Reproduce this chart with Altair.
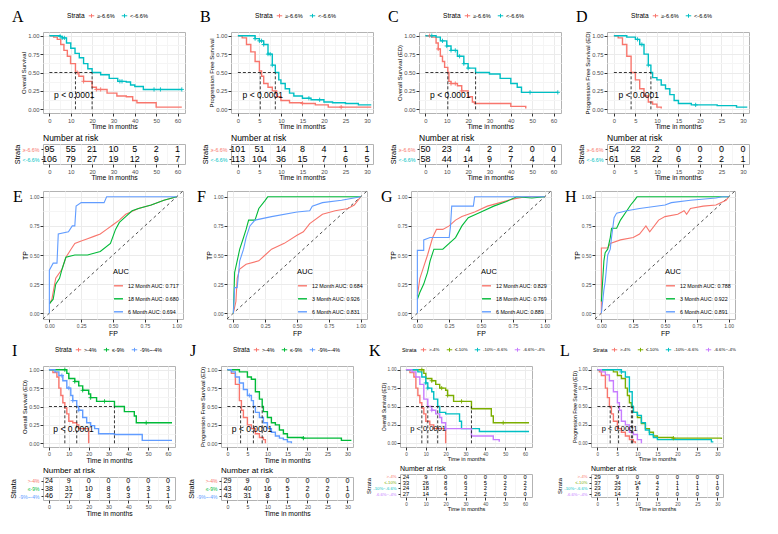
import altair as alt
import pandas as pd

FONT = "Liberation Sans"
SERIF = "Liberation Serif"
RED, CYAN, GREEN, BLUE, OLIVE, PURPLE = "#F8766D", "#00BFC4", "#00BA38", "#619CFF", "#7CAE00", "#C77CFF"

S2 = ["≥-6.6%", "<-6.6%"]
S3 = [">-4%", "≤-9%", "-9%~-4%"]
S4 = [">-4%", "≤-10%", "-10%~-6.6%", "-6.6%~-4%"]

OS_TICKS = [0, 10, 20, 30, 40, 50, 60]
PFS_TICKS = [0, 5, 10, 15, 20, 25, 30]

# ---------------- Kaplan-Meier curves (time, survival) ----------------
A_hi = [(0, 1), (2, 0.98), (3.7, 0.95), (5.3, 0.88), (6.8, 0.8), (8.4, 0.72), (9.9, 0.62), (12.2, 0.5), (13.8, 0.45),
        (16, 0.38), (20, 0.3), (22, 0.27), (27, 0.22), (31.6, 0.18), (36, 0.17), (39, 0.12), (41, 0.09), (50, 0.03), (62, 0.03)]
A_lo = [(0, 1), (5, 0.99), (6, 0.97), (8, 0.9), (10, 0.83), (12, 0.76), (14, 0.7), (16, 0.62), (18, 0.55), (20, 0.5),
        (24, 0.47), (28, 0.42), (32, 0.38), (36, 0.37), (38, 0.33), (40, 0.31), (44, 0.27), (62, 0.27)]
B_hi = [(0, 1), (1, 0.97), (2, 0.88), (3, 0.78), (4, 0.65), (5, 0.52), (5.5, 0.45), (6, 0.35), (7, 0.3), (8, 0.25),
        (9, 0.17), (10, 0.12), (12, 0.09), (15, 0.08), (18, 0.06), (21, 0.03), (31, 0.03)]
B_lo = [(0, 1), (3, 1), (4, 0.96), (5, 0.93), (6, 0.88), (7, 0.75), (8, 0.6), (8.7, 0.5), (9.5, 0.4), (10, 0.35),
        (11, 0.28), (12, 0.22), (13, 0.18), (15, 0.15), (17, 0.13), (20, 0.1), (22, 0.09), (25, 0.08), (28, 0.06), (31, 0.06)]
C_hi = [(0, 1), (3, 0.98), (5, 0.9), (6, 0.82), (7, 0.72), (8, 0.65), (9, 0.57), (10.5, 0.5), (11, 0.38), (12, 0.35),
        (15, 0.32), (17, 0.25), (20, 0.17), (22, 0.1), (23, 0.08), (30, 0.08), (40, 0.04), (47, 0.01)]
C_lo = [(0, 1), (5, 0.98), (7, 0.93), (10, 0.86), (12, 0.8), (15, 0.72), (18, 0.62), (20, 0.56), (23.5, 0.5), (30, 0.48),
        (35, 0.42), (40, 0.35), (43, 0.3), (45, 0.23), (62, 0.23)]
D_hi = [(0, 1), (1, 0.97), (2, 0.88), (3, 0.72), (4, 0.5), (5, 0.4), (6, 0.28), (7, 0.18), (8, 0.1), (9, 0.07),
        (10, 0.03), (11, 0.01)]
D_lo = [(0, 1), (3, 0.98), (5, 0.95), (6, 0.88), (7, 0.75), (8, 0.6), (8.6, 0.5), (9, 0.43), (10, 0.4), (11, 0.33),
        (12, 0.28), (13, 0.2), (14, 0.12), (15, 0.08), (18, 0.06), (24, 0.05), (28.5, 0.03), (31, 0.03)]

I_red = [(0, 1), (2, 0.96), (4, 0.9), (5, 0.75), (6, 0.65), (7, 0.55), (8, 0.48), (9, 0.4), (10, 0.3), (12, 0.28),
         (14, 0.25), (15, 0.2), (20, 0.0)]
I_green = [(0, 1), (8, 1), (9, 0.95), (10, 0.88), (13, 0.84), (15, 0.78), (17, 0.72), (20, 0.67), (21, 0.62), (24, 0.57),
           (33, 0.5), (38, 0.43), (43, 0.37), (44, 0.28), (62, 0.28)]
I_blue = [(0, 1), (3, 0.97), (5, 0.92), (7, 0.85), (9, 0.75), (11, 0.65), (12, 0.58), (14, 0.5), (15, 0.45), (17, 0.35),
          (19, 0.28), (21, 0.24), (23, 0.2), (25, 0.13), (33, 0.12), (47, 0.04), (62, 0.04)]
J_red = [(0, 1), (1, 0.95), (2, 0.8), (3, 0.58), (3.5, 0.45), (4, 0.35), (5, 0.25), (6, 0.2), (7, 0.13), (8, 0.08),
         (9, 0.05), (9.5, 0.0)]
J_green = [(0, 1), (2, 1), (3, 0.97), (5, 0.9), (6, 0.87), (7, 0.7), (8, 0.6), (8.7, 0.5), (9, 0.43), (10, 0.35),
           (11, 0.28), (12, 0.25), (13, 0.18), (14, 0.13), (15, 0.08), (19, 0.07), (28.5, 0.04), (31, 0.04)]
J_blue = [(0, 1), (1, 0.97), (2, 0.9), (3, 0.82), (4, 0.73), (5, 0.65), (6, 0.58), (6.5, 0.5), (7, 0.42), (8, 0.35),
          (9, 0.28), (10, 0.2), (11, 0.15), (12, 0.1), (13, 0.07), (14, 0.05), (15, 0.02), (16, 0.0)]
K_red = [(0, 1), (2, 0.96), (4, 0.9), (5, 0.75), (6, 0.65), (7, 0.55), (8, 0.48), (9, 0.4), (10, 0.3), (12, 0.25),
         (14, 0.2), (20, 0.0)]
K_olive = [(0, 1), (8, 1), (9, 0.95), (10, 0.88), (13, 0.85), (15, 0.8), (17, 0.75), (20, 0.72), (21, 0.65), (24, 0.57),
           (33, 0.47), (43, 0.37), (44, 0.28), (62, 0.28)]
K_cyan = [(0, 1), (6, 0.97), (8, 0.9), (10, 0.82), (11, 0.75), (13, 0.7), (14, 0.6), (16, 0.5), (17, 0.42), (20, 0.4),
          (27, 0.3), (28, 0.2), (37, 0.16), (62, 0.16)]
K_purple = [(0, 1), (3, 0.97), (5, 0.9), (7, 0.8), (9, 0.6), (11, 0.5), (13, 0.45), (15, 0.4), (17, 0.35), (18, 0.28),
            (20, 0.2), (25, 0.2), (33, 0.1), (44, 0.05), (47, 0.02)]
L_red = [(0, 1), (0.5, 0.97), (1, 0.92), (2, 0.75), (2.5, 0.62), (3, 0.5), (3.5, 0.4), (4, 0.3), (5, 0.2), (6, 0.15),
         (7, 0.1), (8, 0.05), (9, 0.02), (9.5, 0.0)]
L_olive = [(0, 1), (4, 0.97), (5, 0.92), (6, 0.88), (7, 0.75), (7.5, 0.65), (8, 0.55), (8.5, 0.5), (9, 0.42), (10, 0.35),
           (11, 0.27), (12, 0.2), (13, 0.15), (14, 0.1), (15, 0.08), (19, 0.07), (31, 0.06)]
L_cyan = [(0, 1), (5, 1), (6, 0.97), (7, 0.9), (8, 0.7), (8.7, 0.5), (9, 0.42), (10, 0.38), (11, 0.28), (12, 0.18),
          (13, 0.12), (14, 0.08), (15, 0.05), (28.5, 0.02), (29, 0.02)]
L_purple = [(0, 1), (1, 0.97), (2, 0.93), (3, 0.85), (4, 0.7), (5, 0.55), (5.5, 0.45), (6, 0.3), (7, 0.25), (8, 0.15),
            (9, 0.12), (10, 0.05), (11, 0.0)]

# censor times
A_cens = [[13, 16, 22, 24], [5, 6, 7, 33, 34, 49, 52, 62]]
B_cens = [[15, 24], [4, 5, 5.5, 6, 7, 7.5, 8, 16.5, 19]]
C_cens = [[2, 6, 12, 14, 17], [3, 8, 10, 12, 14, 16, 18, 20, 49, 62]]
D_cens = [[], [5.5, 6.5, 8, 19]]
I_cens = [[], [8, 13, 17, 21, 28, 49], [6.5, 10, 12, 15]]
J_cens = [[], [19], [5.5]]
K_cens = [[], [8, 13, 18, 21, 28, 49], [10, 11], [13, 20]]
L_cens = [[], [19], [6], []]

# medians
A_med = [12.2, 20]
B_med = [5.2, 8.7]
C_med = [10.5, 23.5]
D_med = [4, 8.6]
I_med = [8, 33, 14]
J_med = [3.3, 8.7, 6.5]
K_med = [8, 33, 16, 11]
L_med = [3.2, 8.5, 8.8, 5.3]

# number at risk
A_risk = [[95, 55, 21, 10, 5, 2, 1], [106, 79, 27, 19, 12, 9, 7]]
B_risk = [[101, 51, 14, 8, 4, 1, 1], [113, 104, 36, 15, 7, 6, 5]]
C_risk = [[50, 23, 4, 2, 2, 0, 0], [58, 44, 14, 9, 7, 4, 4]]
D_risk = [[54, 22, 2, 0, 0, 0, 0], [61, 58, 22, 6, 2, 2, 1]]
I_risk = [[24, 9, 0, 0, 0, 0, 0], [38, 31, 10, 8, 6, 3, 3], [46, 27, 8, 3, 3, 1, 1]]
J_risk = [[29, 9, 0, 0, 0, 0, 0], [43, 40, 16, 5, 2, 2, 1], [43, 31, 8, 1, 0, 0, 0]]
K_risk = [[24, 9, 0, 0, 0, 0, 0], [33, 26, 8, 6, 5, 2, 2], [24, 18, 6, 3, 2, 2, 2], [27, 14, 4, 2, 2, 0, 0]]
L_risk = [[29, 9, 0, 0, 0, 0, 0], [37, 34, 14, 4, 1, 1, 1], [23, 23, 8, 2, 1, 1, 0], [26, 14, 2, 0, 0, 0, 0]]

# ---------------- ROC curves (FP, TP) ----------------
E_labels = ["12 Month AUC: 0.717", "18 Month AUC: 0.680", "6 Month AUC: 0.694"]
E_12 = [(0, 0.08), (0.02, 0.12), (0.05, 0.3), (0.1, 0.38), (0.13, 0.48), (0.17, 0.55), (0.2, 0.6), (0.25, 0.62),
        (0.3, 0.64), (0.35, 0.66), (0.4, 0.68), (0.45, 0.72), (0.5, 0.76), (0.55, 0.8), (0.6, 0.85), (0.7, 0.9),
        (0.8, 0.93), (0.9, 0.97), (1, 1)]
E_18 = [(0, 0.08), (0.03, 0.12), (0.05, 0.25), (0.08, 0.3), (0.1, 0.38), (0.13, 0.48), (0.2, 0.5), (0.3, 0.5),
        (0.4, 0.53), (0.48, 0.6), (0.52, 0.72), (0.55, 0.78), (0.6, 0.83), (0.65, 0.88), (0.7, 0.9), (0.8, 0.93),
        (0.9, 0.97), (1, 1)]
E_6 = [(0, 0), (0, 0.37), (0.03, 0.43), (0.06, 0.43), (0.07, 0.68), (0.15, 0.7), (0.18, 0.75), (0.2, 0.75),
       (0.21, 0.92), (0.25, 0.95), (0.43, 0.95), (0.45, 1.0), (1, 1)]
F_labels = ["12 Month AUC: 0.684", "3 Month AUC: 0.926", "6 Month AUC: 0.831"]
F_12 = [(0, 0), (0.02, 0.1), (0.03, 0.3), (0.05, 0.38), (0.1, 0.42), (0.2, 0.45), (0.25, 0.5), (0.3, 0.55), (0.4, 0.6),
        (0.5, 0.67), (0.55, 0.7), (0.6, 0.77), (0.7, 0.85), (0.8, 0.88), (0.9, 0.9), (0.95, 0.93), (1, 1)]
F_3 = [(0, 0), (0.01, 0.35), (0.03, 0.45), (0.05, 0.55), (0.08, 0.65), (0.1, 0.72), (0.12, 0.8), (0.17, 0.8),
       (0.2, 0.9), (0.25, 0.97), (0.27, 1), (1, 1)]
F_6 = [(0, 0), (0.01, 0.22), (0.03, 0.22), (0.05, 0.45), (0.08, 0.55), (0.1, 0.65), (0.13, 0.75), (0.17, 0.8),
       (0.3, 0.83), (0.5, 0.87), (0.6, 0.88), (0.62, 0.92), (0.7, 0.95), (0.85, 0.97), (1, 1)]
G_labels = ["12 Month AUC: 0.829", "18 Month AUC: 0.769", "6 Month AUC: 0.889"]
G_12 = [(0, 0.15), (0.02, 0.3), (0.05, 0.4), (0.08, 0.5), (0.12, 0.65), (0.15, 0.72), (0.2, 0.72), (0.25, 0.75),
        (0.3, 0.8), (0.35, 0.83), (0.45, 0.87), (0.55, 0.92), (0.65, 0.95), (0.75, 0.98), (0.85, 1), (1, 1)]
G_18 = [(0, 0.12), (0.02, 0.18), (0.05, 0.25), (0.08, 0.35), (0.1, 0.45), (0.13, 0.55), (0.2, 0.55), (0.25, 0.6),
        (0.3, 0.65), (0.35, 0.75), (0.4, 0.82), (0.5, 0.87), (0.6, 0.92), (0.7, 0.96), (0.78, 1), (0.9, 0.99), (1, 1)]
G_6 = [(0, 0), (0, 0.54), (0.05, 0.54), (0.05, 0.63), (0.1, 0.65), (0.25, 0.65), (0.26, 0.74), (0.27, 0.92),
       (0.44, 0.92), (0.45, 1), (1, 1)]
H_labels = ["12 Month AUC: 0.788", "3 Month AUC: 0.922", "6 Month AUC: 0.891"]
H_12 = [(0, 0), (0, 0.56), (0.05, 0.56), (0.07, 0.6), (0.15, 0.63), (0.25, 0.65), (0.3, 0.68), (0.35, 0.75),
        (0.38, 0.7), (0.45, 0.8), (0.5, 0.83), (0.6, 0.85), (0.65, 0.88), (0.67, 0.85), (0.7, 0.9), (0.8, 0.92),
        (0.9, 0.93), (0.98, 0.97), (1, 1)]
H_3 = [(0, 0.1), (0.02, 0.45), (0.03, 0.52), (0.05, 0.55), (0.07, 0.65), (0.08, 0.73), (0.12, 0.73), (0.15, 0.8),
       (0.2, 0.88), (0.23, 0.93), (0.26, 0.97), (0.28, 1), (1, 1)]
H_6 = [(0, 0), (0.02, 0.2), (0.03, 0.27), (0.05, 0.5), (0.07, 0.55), (0.08, 0.65), (0.1, 0.82), (0.12, 0.86),
       (0.2, 0.88), (0.3, 0.9), (0.5, 0.93), (0.55, 0.95), (0.7, 0.97), (0.9, 0.99), (0.95, 1), (1, 1)]

PLUS = "M-1,0L1,0M0,-1L0,1"
LEG_PLUS = "M-1,0L1,0M0,-0.7L0,0.7"
Y_MAJ = [0, 0.25, 0.5, 0.75, 1]
Y_MIN = [0.125, 0.375, 0.625, 0.875]
KM_H = 81


def indep(c):
    return c.resolve_scale(color="independent").resolve_legend(color="independent")


def mk_axis(major, minor, fmt, title, tfs, lfs):
    vals = sorted(set(major) | set(minor))
    test = " || ".join(f"datum.value === {v}" for v in major)
    return alt.Axis(values=vals, format=fmt, title=title, labelExpr=f"({test}) ? datum.label : ''",
                    labelOverlap=False, labelFlush=False, grid=True,
                    gridColor={"condition": {"test": test, "value": "#EBEBEB"}, "value": "#F5F5F5"},
                    tickColor={"condition": {"test": test, "value": "#333333"}, "value": "rgba(0,0,0,0)"},
                    titleFontSize=tfs, labelFontSize=lfs)


def surv_at(curve, t):
    s = curve[0][1]
    for tt, ss in curve:
        if tt <= t:
            s = ss
    return s


def km(letter, ytitle, strata, colors, curves, cens, meds, risk, kind, leg_x, fs, W):
    lfs, xtfs, ytfs, legfs, pfs, rfs, sfs, nfs, rh = fs
    if kind == "OS":
        ticks, minor, dom, px = OS_TICKS, [5, 15, 25, 35, 45, 55], [-3, 63.5], 2.2
    else:
        ticks, minor, dom, px = PFS_TICKS, [2.5, 7.5, 12.5, 17.5, 22.5, 27.5], [-1.6, 31.4], 1.1
    xs = alt.Scale(domain=dom, nice=False, zero=False)
    ys = alt.Scale(domain=[-0.05, 1.05], nice=False, zero=False)
    cs = alt.Scale(domain=strata, range=colors)
    xa = mk_axis(ticks, minor, "d", "Time in months", xtfs, lfs)
    ya = mk_axis(Y_MAJ, Y_MIN, ".2f", ytitle, ytfs, lfs)
    X = alt.X("t:Q", scale=xs, axis=xa)
    Y = alt.Y("s:Q", scale=ys, axis=ya)
    rows, crow = [], []
    for g, cur, cc in zip(strata, curves, cens):
        for t, s in cur:
            rows.append({"g": g, "t": t, "s": s})
        for t in cc:
            crow.append({"g": g, "t": t, "s": surv_at(cur, t)})
    df = pd.DataFrame(rows)
    leg = alt.Legend(orient="none", legendX=leg_x, legendY=-20, direction="horizontal", title="Strata",
                     titleOrient="left", titleFontSize=legfs + 1, titleFontWeight="normal", labelFontSize=legfs,
                     symbolType=LEG_PLUS, symbolSize=30, symbolStrokeWidth=1, columnPadding=4, labelOffset=2,
                     titlePadding=3)
    lines = alt.Chart(df).mark_line(interpolate="step-after", strokeWidth=1.4).encode(
        x=X, y=Y, color=alt.Color("g:N", scale=cs, legend=leg))
    layers = [lines]
    if crow:
        layers.append(alt.Chart(pd.DataFrame(crow)).mark_point(shape=PLUS, size=18, filled=False, strokeWidth=0.9,
                                                               opacity=1).encode(
            x=X, y=Y, color=alt.Color("g:N", scale=cs, legend=None)))
    dm = pd.DataFrame({"t": meds, "s": [0.0] * len(meds), "s2": [0.5] * len(meds)})
    layers.append(alt.Chart(dm).mark_rule(strokeDash=[3, 2], strokeWidth=0.9, color="#222").encode(
        x=X, y=Y, y2="s2:Q"))
    dh = pd.DataFrame({"t": [0], "t2": [max(meds)], "s": [0.5]})
    layers.append(alt.Chart(dh).mark_rule(strokeDash=[3, 2], strokeWidth=0.9, color="#222").encode(
        x=X, x2="t2:Q", y=Y))
    dp = pd.DataFrame({"t": [px], "s": [0.2], "txt": ["p < 0.0001"]})
    layers.append(alt.Chart(dp).mark_text(align="left", baseline="middle", fontSize=pfs, font=FONT).encode(
        x=X, y=Y, text="txt:N"))
    dl = pd.DataFrame({"L": [letter]})
    layers.append(alt.Chart(dl).mark_text(align="left", baseline="middle", fontSize=16, font=SERIF).encode(
        x=alt.value(-31), y=alt.value(-15), text="L:N"))
    top = alt.layer(*layers).properties(width=W, height=KM_H)

    rr = []
    for g, ns in zip(strata, risk):
        for t, n in zip(ticks, ns):
            rr.append({"g": g, "t": t, "n": n})
    cond = {"condition": [{"test": f"datum.value === '{g}'", "value": c} for g, c in zip(strata, colors)],
            "value": "black"}
    ry = alt.Axis(title="Strata", labelColor=cond, labelFontSize=sfs, titleFontSize=xtfs + 0.5, grid=False,
                  tickColor="#333333", tickSize=2, labelPadding=2, titlePadding=1)
    risk_c = alt.Chart(pd.DataFrame(rr)).mark_text(fontSize=rfs, font=FONT, baseline="middle").encode(
        x=alt.X("t:Q", scale=xs, axis=mk_axis(ticks, minor, "d", "Time in months", xtfs, lfs)),
        y=alt.Y("g:N", sort=strata, scale=alt.Scale(domain=strata, paddingInner=0, paddingOuter=0.1), axis=ry),
        text="n:Q").properties(width=W, height=rh,
                               title=alt.TitleParams("Number at risk", anchor="start", frame="group", fontSize=nfs,
                                                     fontWeight="normal", font=FONT, offset=2, color="black"))
    return indep(alt.vconcat(top, risk_c, spacing=1))


RW, RH = 140, 128


def roc(letter, labels, curves):
    colors = [RED, GREEN, BLUE]
    rows = []
    for g, cur in zip(labels, curves):
        for i, (fp, tp) in enumerate(cur):
            rows.append({"g": g, "i": i, "fp": fp, "tp": tp})
    sc = alt.Scale(domain=[-0.05, 1.05], nice=False, zero=False)
    xa = mk_axis(Y_MAJ, Y_MIN, ".2f", "FP", 7, 5)
    ya = mk_axis(Y_MAJ, Y_MIN, ".2f", "TP", 7, 5)
    leg = alt.Legend(orient="none", legendX=RW * 0.5, legendY=RH * 0.6, title="AUC", titleFontSize=7.5,
                     titleFontWeight="normal", labelFontSize=5.3, symbolType="stroke", symbolSize=80,
                     symbolStrokeWidth=1.4, rowPadding=4, labelOffset=4)
    line = alt.Chart(pd.DataFrame(rows)).mark_line(strokeWidth=1.1).encode(
        x=alt.X("fp:Q", scale=sc, axis=xa), y=alt.Y("tp:Q", scale=sc, axis=ya),
        color=alt.Color("g:N", scale=alt.Scale(domain=labels, range=colors), legend=leg), order="i:Q")
    dd = pd.DataFrame({"fp": [-0.05], "tp": [-0.05], "fp2": [1.05], "tp2": [1.05]})
    diag = alt.Chart(dd).mark_rule(strokeDash=[3, 3], strokeWidth=0.8, color="#222").encode(
        x=alt.X("fp:Q", scale=sc, axis=xa), y=alt.Y("tp:Q", scale=sc, axis=ya), x2="fp2:Q", y2="tp2:Q")
    lt = alt.Chart(pd.DataFrame({"L": [letter]})).mark_text(align="left", baseline="middle", fontSize=16,
                                                              font=SERIF).encode(
        x=alt.value(-30), y=alt.value(6), text="L:N")
    return alt.layer(diag, line, lt).properties(width=RW, height=RH)


# lfs, xtfs, ytfs, legfs, pfs, rfs, sfs, nfs, rh
FS_TOP = (5.8, 6.8, 6.0, 5.6, 8.5, 9, 5.3, 8.5, 20)
FS_MID = (5.3, 6.8, 5.8, 5.3, 8.5, 7.2, 5.0, 8, 23)
FS_SM = (4.6, 5.5, 5.2, 4.4, 7.5, 5.8, 4.2, 7, 23)

row1 = indep(alt.hconcat(
    km("A", "Overall Survival", S2, [RED, CYAN], [A_hi, A_lo], A_cens, A_med, A_risk, "OS", 24, FS_TOP, 142),
    km("B", "Progression Free Survival", S2, [RED, CYAN], [B_hi, B_lo], B_cens, B_med, B_risk, "PFS", 24, FS_TOP, 142),
    km("C", "Overall Survival (ED)", S2, [RED, CYAN], [C_hi, C_lo], C_cens, C_med, C_risk, "OS", 24, FS_TOP, 142),
    km("D", "Progression Free Survival (ED)", S2, [RED, CYAN], [D_hi, D_lo], D_cens, D_med, D_risk, "PFS", 24,
       FS_TOP, 142),
    spacing=12))
row2 = indep(alt.hconcat(roc("E", E_labels, [E_12, E_18, E_6]), roc("F", F_labels, [F_12, F_3, F_6]),
                         roc("G", G_labels, [G_12, G_18, G_6]), roc("H", H_labels, [H_12, H_3, H_6]), spacing=12))
row3 = indep(alt.hconcat(
    km("I", "Overall Survival (ED)", S3, [RED, GREEN, BLUE], [I_red, I_green, I_blue], I_cens, I_med, I_risk, "OS",
       12, FS_MID, 132),
    km("J", "Progression Free Survival (ED)", S3, [RED, GREEN, BLUE], [J_red, J_green, J_blue], J_cens, J_med, J_risk,
       "PFS", 12, FS_MID, 132),
    km("K", "Overall Survival (ED)", S4, [RED, OLIVE, CYAN, PURPLE], [K_red, K_olive, K_cyan, K_purple], K_cens,
       K_med, K_risk, "OS", 2, FS_SM, 132),
    km("L", "Progression Free Survival (ED)", S4, [RED, OLIVE, CYAN, PURPLE], [L_red, L_olive, L_cyan, L_purple],
       L_cens, L_med, L_risk, "PFS", 2, FS_SM, 132),
    spacing=10))

chart = indep(alt.vconcat(row1, row2, row3, spacing=5)).properties(
    padding={"left": 0, "top": 0, "right": 0, "bottom": 0}
).configure(font=FONT).configure_view(stroke="#B3B3B3", strokeWidth=1).configure_axis(
    domain=False, tickSize=3, labelColor="#4D4D4D", titleColor="black", titleFontWeight="normal",
    labelPadding=1, titlePadding=1, labelFont=FONT, titleFont=FONT
).configure_legend(labelFont=FONT, titleFont=FONT)

chart.save("out.html", embed_options={"renderer": "svg", "actions": False})
